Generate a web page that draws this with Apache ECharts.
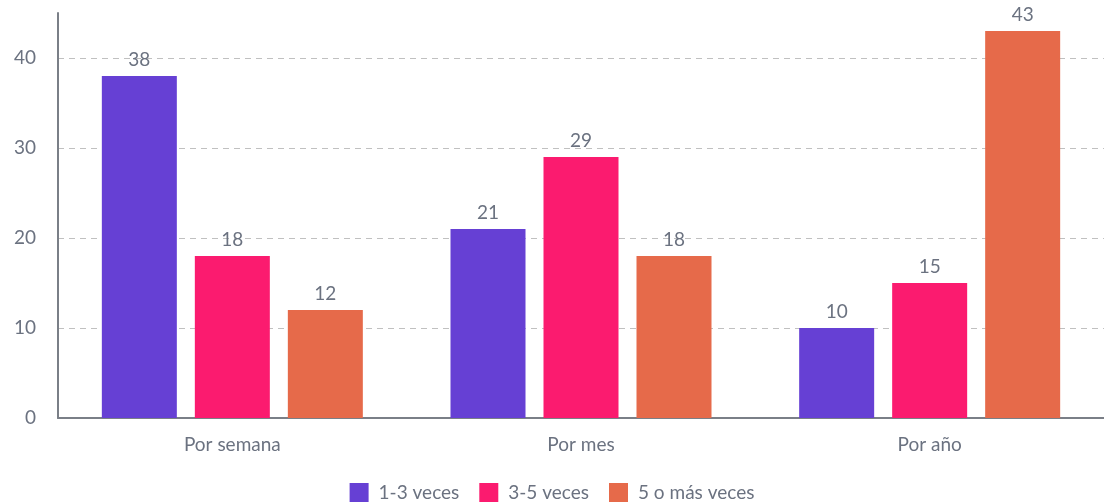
<!DOCTYPE html>
<html>
<head>
<meta charset="utf-8">
<script src="https://cdn.jsdelivr.net/npm/echarts@6/dist/echarts.min.js"></script>
<style>
  html, body { margin: 0; padding: 0; background: #fff; }
  #main { width: 1104px; height: 504px; }
</style>
</head>
<body>
<div id="main"></div>
<script>
var chartDom = document.getElementById('main');
var myChart = echarts.init(chartDom);
var option;

let categories = ['Por semana', 'Por mes', 'Por año'];
let seriesNames = ['1-3 veces', '3-5 veces', '5 o más veces'];
let veces13 = [38, 21, 10];
let veces35 = [18, 29, 15];
let veces5mas = [12, 18, 43];
let colors = ['#6640d4', '#fb1b6f', '#e66a4a'];

let textColor = '#6b7280';
let fontFamily = 'Lato, "Open Sans", sans-serif';

function makeSeries(name, data) {
  return {
    name: name,
    type: 'bar',
    data: data,
    barWidth: 75,
    barGap: '24%',
    label: {
      show: true,
      position: 'top',
      distance: 7,
      color: textColor,
      fontSize: 19,
      fontFamily: fontFamily
    }
  };
}

option = {
  color: colors,
  animation: false,
  grid: {
    left: 58,
    right: -1,
    top: 13,
    bottom: 86
  },
  legend: {
    top: 478,
    left: 'center',
    itemWidth: 19,
    itemHeight: 19,
    itemGap: 20,
    icon: 'rect',
    textStyle: {
      color: textColor,
      fontSize: 19,
      padding: [0, 0, 0, 5],
      fontFamily: fontFamily
    },
    data: seriesNames
  },
  xAxis: {
    type: 'category',
    data: categories,
    axisTick: { show: false },
    axisLine: { lineStyle: { color: '#7a7f87', width: 2 } },
    axisLabel: {
      color: textColor,
      fontSize: 19,
      margin: 17,
      fontFamily: fontFamily
    }
  },
  yAxis: {
    type: 'value',
    min: 0,
    max: 45,
    interval: 10,
    axisLine: { show: true, lineStyle: { color: '#7a7f87', width: 2 } },
    axisTick: { show: false },
    axisLabel: {
      color: textColor,
      fontSize: 19,
      margin: 22,
      showMaxLabel: false,
      fontFamily: fontFamily
    },
    splitLine: {
      showMaxLine: false,
      lineStyle: { type: [6, 5], color: '#c0c0c0', width: 1 }
    }
  },
  series: [
    makeSeries(seriesNames[0], veces13),
    makeSeries(seriesNames[1], veces35),
    makeSeries(seriesNames[2], veces5mas)
  ]
};

option && myChart.setOption(option);
</script>
</body>
</html>
